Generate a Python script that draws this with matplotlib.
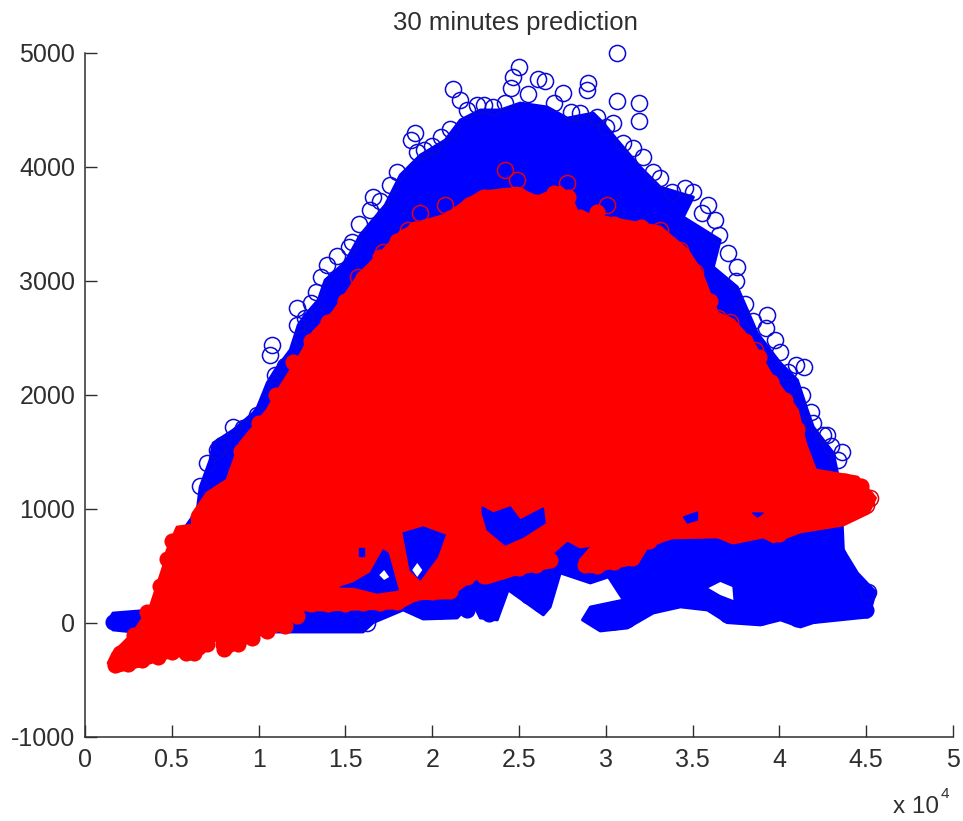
import matplotlib
matplotlib.use("Agg")
import matplotlib.pyplot as plt

plt.rcParams['font.family'] = ['Liberation Sans', 'DejaVu Sans']
plt.rcParams['axes.unicode_minus'] = False

# x values are in units of 10^4, as on the axis
# solid area covered by the blue circles, read off clockwise
blue_x = [.133, .161, .375, .432, .473, .646, .663, .720, .738, .853, .968, .991, 1.026, 1.049, 1.095, 1.182,
          1.228, 1.268, 1.343, 1.383, 1.499, 1.585, 1.729, 1.816, 1.931, 2.075, 2.162, 2.277, 2.392, 2.507,
          2.663, 2.778, 2.928, 2.986, 3.066, 3.199, 3.314, 3.505, 3.447, 3.660, 3.620, 3.758, 3.816, 3.873,
          4.006, 4.104, 4.161, 4.196, 4.311, 4.335, 4.363, 4.369, 4.450, 4.554, 4.513, 4.196, 4.121, 4.006,
          3.891, 3.700, 3.585, 3.430, 3.274, 3.124, 2.968, 2.865, 2.911, 3.101, 3.015, 2.911, 2.738, 2.680,
          2.640, 2.438, 2.375, 2.277, 2.231, 2.144, 1.948, 1.833, 1.660, 1.602, 1.124, .277, .161]
blue_y = [15, 85, 111, 348, 611, 989, 1190, 1427, 1576, 1690, 1840, 1884, 2015, 2103, 2217, 2393,
          2612, 2700, 2831, 3006, 3164, 3401, 3664, 3927, 4102, 4234, 4410, 4498, 4498, 4559,
          4524, 4427, 4471, 4384, 4234, 3997, 3822, 3734, 3559, 3357, 3120, 2945, 2743, 2541,
          2278, 2129, 1866, 1717, 1489, 1314, 840, 638, 436, 269, 50, 0, -38, 24,
          -20, 0, 111, 138, 85, -47, -73, 24, 138, 199, 401, 348, 436, 138,
          68, 287, 24, 41, 182, 41, 32, 111, 0, -82, -82, -82, -64]

# solid area covered by the red circles
red_x = [.133, .173, .277, .530, .605, .680, .761, .761, .807, 1.009, 1.141, 1.222, 1.395, 1.816, 1.914, 2.087,
         2.202, 2.277, 2.317, 2.467, 2.680, 2.692, 2.778, 2.853, 2.928, 2.853, 2.911, 3.182, 3.239, 3.372,
         3.643, 3.735, 3.908, 3.966, 4.121, 4.369, 4.513, 4.554, 4.450, 4.208, 4.150, 4.104, 3.948, 3.850,
         3.735, 3.643, 3.545, 3.470, 3.314, 3.084, 2.836, 2.795, 2.738, 2.605, 2.490, 2.392, 2.277, 2.202,
         2.075, 1.931, 1.816, 1.718, 1.574, 1.510, 1.429, 1.314, 1.239, 1.124, 1.049, .893, .818, .703,
         .623, .617, .530, .473, .450, .375, .277, .161]
red_y = [-354, -432, -397, -283, -318, -266, -134, -213, -283, -108, -64, 111, 111, 129, 208, 217,
         348, 401, 348, 418, 488, 611, 725, 664, 682, 550, 445, 524, 664, 743,
         752, 699, 752, 708, 796, 857, 962, 1094, 1278, 1340, 1576, 1866, 2190, 2454,
         2655, 2717, 3094, 3269, 3471, 3533, 3603, 3752, 3822, 3734, 3813, 3796, 3778, 3708,
         3576, 3515, 3427, 3269, 3050, 2901, 2725, 2550, 2349, 2067, 1866, 1576, 1252, 1138,
         962, 857, 839, 638, 488, 138, -91, -266]

# overlapping circles along the edge of the red area
red_edge_x = [.17, .25, .33, .42, .50, .58, .63, .70, .80, .88, .96, 1.05, 1.15, 1.22, 1.3, 1.4, 1.5, 1.6, 1.7, 1.8,
              1.9, 2.0, 2.1, 2.2, 2.3, 2.4, 2.5, 2.6, 2.68, 2.75, 2.88, 2.95, 3.05, 3.15, 3.25, 3.35, 3.45, 3.55,
              3.65, 3.72, 3.82, 3.92, 4.0, 4.1, 4.2, 4.3, 4.4, 4.48, 4.5, 4.47, 4.38, 4.28, 4.10, 4.03, 3.95, 3.88,
              3.8, 3.7, 3.6, 3.52, 3.42, 3.3, 3.2, 3.05, 2.95, 2.85, 2.78, 2.7, 2.6, 2.5, 2.4, 2.3, 2.2, 2.1, 2.0,
              1.9, 1.8, 1.7, 1.6, 1.5, 1.4, 1.3, 1.2, 1.1, 1.0, .9, .82, .72, .65, .58, .5, .47, .43, .36, .28, .2]
red_edge_y = [-370, -360, -330, -300, -260, -270, -270, -190, -230, -190, -130, -70, -30, 60, 160, 165, 165, 170, 175,
              180, 260, 270, 280, 400, 410, 450, 480, 510, 550, 770, 510, 500, 530, 570, 720, 800, 810, 815,
              810, 770, 810, 810, 780, 860, 880, 910, 960, 1040, 1100, 1200, 1240, 1250, 1700, 1950, 2110, 2330,
              2470, 2590, 2820, 3000, 3250, 3400, 3470, 3500, 3600, 3560, 3730, 3770, 3690, 3750, 3740, 3730, 3650,
              3550, 3480, 3450, 3350, 3210, 3020, 2820, 2640, 2470, 2290, 2000, 1750, 1510, 1150, 1060, 930, 770,
              720, 560, 320, 90, -110, -270]

# same along the lower edge of the blue area
blue_edge_x = [2.97, 3.05, 3.12, 3.2, 3.28, 3.4, 3.5, 3.6, 3.7, 3.8, 3.9, 4.0, 4.1, 4.2, 4.3, 4.4, 4.5, 4.48, 4.4, 4.34,
               .16, .2, .3, 1.3, 1.45, 1.58, 1.95, 2.05, 2.2, 2.33, 2.45, 2.55, 2.62]
blue_edge_y = [0, 10, 20, 120, 155, 200, 195, 170, 70, 70, 50, 94, 32, 70, 90, 100, 110, 220, 400, 600,
               10, 0, 0, 0, 0, 0, 100, 100, 110, 80, 360, 235, 160]

# gaps in the red area where the blue shows through
gap_a_x = [1.833, 1.948, 2.075, 2.029, 1.931, 1.873]
gap_a_y = [787, 839, 769, 576, 375, 462]
gap_b_x = [1.470, 1.545, 1.643, 1.718, 1.746, 1.804, 1.683, 1.545]
gap_b_y = [313, 348, 436, 638, 611, 287, 261, 313]
gap_c_x = [2.288, 2.352, 2.450, 2.507, 2.640, 2.651, 2.525, 2.421, 2.317, 2.288]
gap_c_y = [1015, 962, 1015, 901, 1006, 875, 752, 682, 813, 962]
gap_d_x = [3.447, 3.528, 3.528, 3.470]
gap_d_y = [927, 971, 901, 875]
gap_e_x = [3.845, 3.908, 3.873]
gap_e_y = [962, 962, 927]
gap_f_x = [1.579, 1.608, 1.608, 1.579]
gap_f_y = [655, 655, 585, 585]

# white spots left between the circles
white_a_x = [3.591, 3.660, 3.729, 3.735, 3.660]
white_a_y = [304, 357, 313, 199, 243]
white_b_x = [1.885, 1.914, 1.943, 1.914]
white_b_y = [462, 524, 462, 401]
white_c_x = [1.695, 1.723, 1.752, 1.723]
white_c_y = [418, 462, 401, 375]

# single circles that stick out of the solid areas
blue_pts_x = [3.066, 3.066, 3.193, 3.193, 3.043, 2.501, 2.467, 2.611, 2.651, 2.455, 2.755, 2.899, 2.893, 2.121,
              2.162, 2.259, 1.902, 1.879, 2.052, 1.914, 1.758, 1.660, 1.643, 1.395, 1.360, 1.222, 1.303, 1.078,
              1.066, 1.095, 1.101, .790, .761, .911, .991, 1.539, 1.222, 1.268, 3.458, 3.314, 3.101, 3.159,
              3.217, 3.591, 3.556, 3.631, 3.706, 3.758, 3.931, 3.920, 3.977, 4.006, 4.098, 4.139, 4.133, 4.196,
              4.277, 4.363, 4.335, 4.513, 1.625,
              1.15, 1.25, 1.33, 1.45, 1.52, 1.58, 1.7, 1.8, 1.95, 2.0, 2.1, 2.2, 2.3, 2.35, 2.42, 2.55, 2.7, 2.8,
              2.85, 2.95, 3.0, 3.27, 3.38, 3.5, 3.65, 3.75, 3.8, 3.85, 4.05, 4.18, 4.25, 4.3, .85, .7, .66]
blue_pts_y = [5000, 4577, 4559, 4401, 4384, 4875, 4787, 4770, 4752, 4691, 4647, 4734, 4673, 4682,
              4585, 4541, 4296, 4234, 4260, 4129, 3839, 3734, 3620, 3137, 3033, 2760, 2804, 2436,
              2348, 2173, 2085, 1559, 1515, 1708, 1822, 3340, 2611, 2673, 3813, 3900, 4208, 4164,
              4085, 3664, 3594, 3532, 3243, 3120, 2700, 2585, 2480, 2375, 2261, 2243, 1997, 1752,
              1646, 1497, 1427, 268, 0,
              2250, 2500, 2900, 3220, 3300, 3500, 3700, 3950, 4150, 4180, 4330, 4500, 4540, 4520, 4560, 4640, 4560, 4480,
              4470, 4440, 4350, 3950, 3780, 3780, 3400, 3000, 2800, 2650, 2200, 1850, 1650, 1550, 1720, 1400, 1200]
red_pts_x = [2.075, 1.931, 1.862, 1.718, 1.574, 2.421, 2.490, 2.778, 3.009, 3.314, 3.430, 3.516, 3.649, 3.718,
             3.862, 4.524, 4.496, 2.219]
red_pts_y = [3664, 3593, 3445, 3252, 3032, 3971, 3883, 3857, 3664, 3445, 3269, 3076, 2673, 2638,
             2392, 1094, 1032, 3664]

x_ticks = [0, 0.5, 1, 1.5, 2, 2.5, 3, 3.5, 4, 4.5, 5]
x_labels = ['0', '0.5', '1', '1.5', '2', '2.5', '3', '3.5', '4', '4.5', '5']
y_ticks = [-1000, 0, 1000, 2000, 3000, 4000, 5000]

text_color = '#2e2e2e'

fig = plt.figure(figsize=(9.63, 8.21), dpi=100)
ax = fig.add_axes([85 / 963, 84.3 / 821, 868 / 963, 684 / 821])

# blue series
ax.fill(blue_x, blue_y, color='#0000ff', lw=2, joinstyle='round', zorder=1)
ax.plot(blue_edge_x, blue_edge_y, 'o', color='#0000ff', ms=11.6, mew=0, zorder=1)
ax.plot(blue_pts_x, blue_pts_y, 'o', mfc='none', mec='#0a0ad8', ms=11.6, mew=1.1, zorder=2, clip_on=False)

# red series
ax.plot(red_pts_x, red_pts_y, 'o', mfc='none', mec='#e00010', ms=11.6, mew=1.1, zorder=3)
ax.fill(red_x, red_y, color='#ff0000', lw=2, joinstyle='round', zorder=4)
ax.plot(red_edge_x, red_edge_y, 'o', color='#ff0000', ms=11.6, mew=0, zorder=4)
for gx, gy in [(gap_a_x, gap_a_y), (gap_b_x, gap_b_y), (gap_c_x, gap_c_y),
               (gap_d_x, gap_d_y), (gap_e_x, gap_e_y), (gap_f_x, gap_f_y)]:
    ax.fill(gx, gy, color='#0000ff', lw=1, zorder=5)
for wx, wy in [(white_a_x, white_a_y), (white_b_x, white_b_y), (white_c_x, white_c_y)]:
    ax.fill(wx, wy, color='white', lw=0, zorder=6)

ax.set_xlim(0, 5)
ax.set_ylim(-1000, 5000)
ax.set_xticks(x_ticks)
ax.set_xticklabels(x_labels)
ax.set_yticks(y_ticks)
ax.tick_params(direction='in', length=8.4, width=1, labelsize=18, labelcolor=text_color, color=text_color)
ax.tick_params(axis='x', pad=8)
ax.tick_params(axis='y', pad=7)
ax.spines['top'].set_visible(False)
ax.spines['right'].set_visible(False)
ax.spines['left'].set_color(text_color)
ax.spines['bottom'].set_color(text_color)
ax.spines['left'].set_linewidth(1.1)
ax.spines['bottom'].set_linewidth(1.1)

fig.text(515.5 / 963, 1 - 23 / 821, '30 minutes prediction', ha='center', va='center', fontsize=18.5, color=text_color)
fig.text(893 / 963, 1 - 807 / 821, 'x 10', ha='left', va='center', fontsize=17.5, color=text_color)
fig.text(945 / 963, 1 - 794 / 821, '4', ha='center', va='center', fontsize=11, color=text_color)

fig.savefig('out.png', dpi=100)
